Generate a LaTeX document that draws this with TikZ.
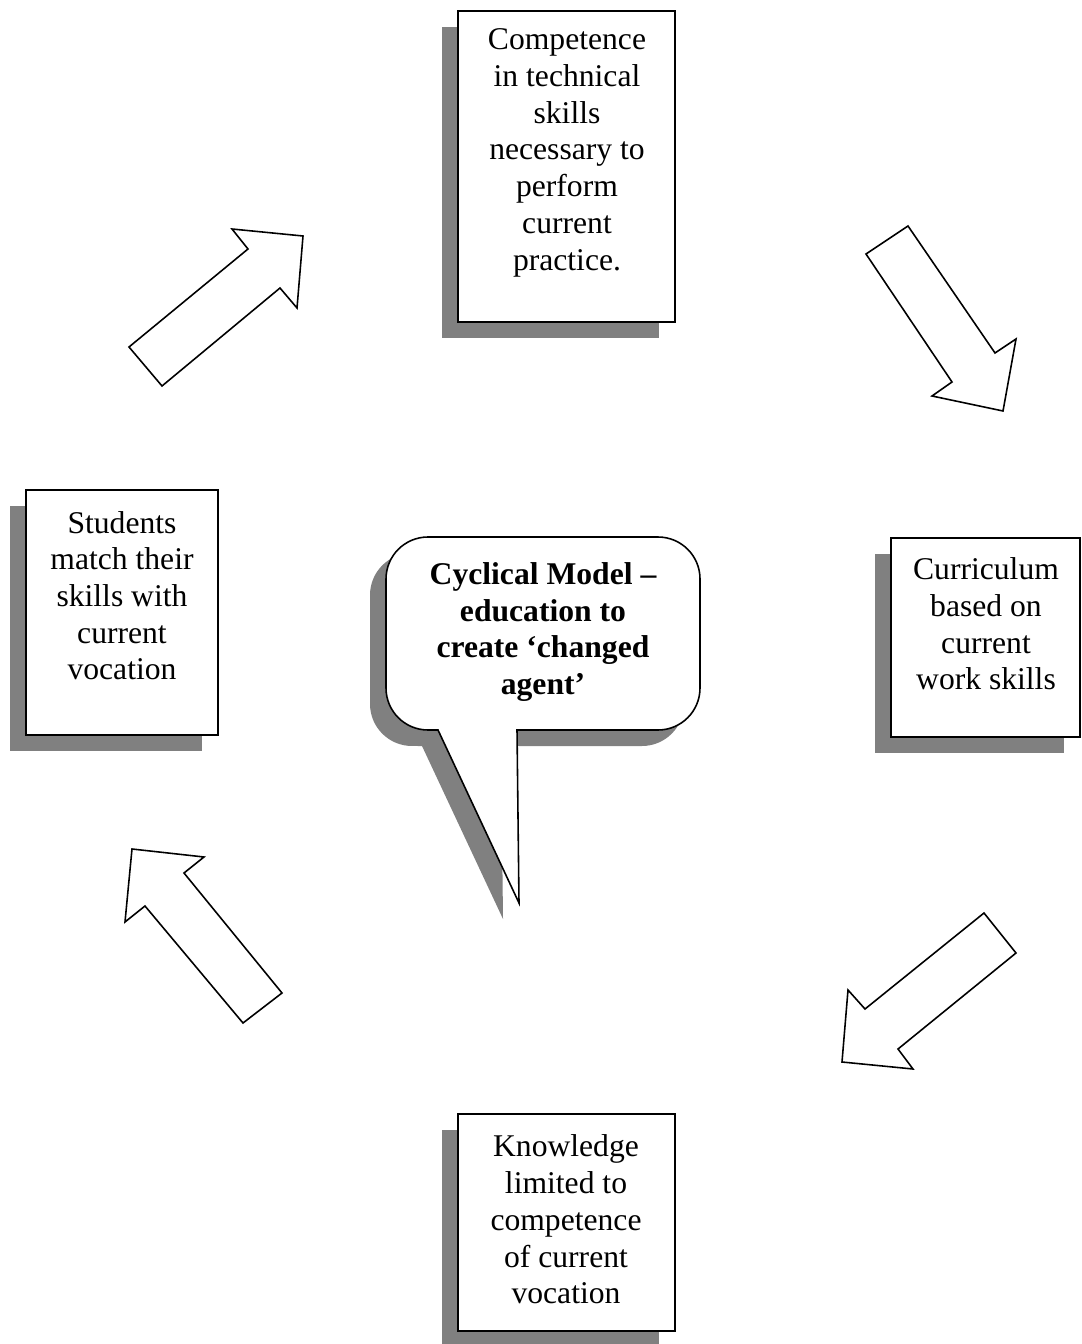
\documentclass[tikz,border=0pt]{standalone}
\usepackage{fontspec}
\setmainfont{Liberation Serif}
\usetikzlibrary{shadows}

% outline of the speech bubble (pixel units of the picture)
\newcommand{\bubble}{(519,903) -- (517,730) -- (658,730)
  arc[start angle=-90, end angle=0, radius=0.84cm] -- (700,579)
  arc[start angle=0, end angle=90, radius=0.84cm] -- (428,537)
  arc[start angle=90, end angle=180, radius=0.84cm] -- (386,688)
  arc[start angle=180, end angle=270, radius=0.84cm] -- (438,730) -- cycle}

\begin{document}
\begin{tikzpicture}[
  x=0.02cm, y=-0.02cm,
  card/.style={rectangle, draw, line width=0.9pt, fill=white, inner sep=0pt,
    drop shadow={shadow xshift=-0.32cm, shadow yshift=-0.32cm, fill=black!50, opacity=1}},
  txt/.style={align=center, inner sep=0pt, font=\fontsize{18}{20.9}\selectfont},
  bigarrow/.style={draw, line width=0.9pt, fill=white, line join=miter}
]
\useasboundingbox (0,0) rectangle (1081,1344);

% boxes of the cycle
\node[card, minimum width=4.34cm, minimum height=6.22cm] (skillsbox) at (566.5,166.5) {};
\node[card, minimum width=3.78cm, minimum height=3.98cm] (curriculumbox) at (985.5,637.5) {};
\node[card, minimum width=4.34cm, minimum height=4.34cm] (knowledgebox) at (566.5,1222.5) {};
\node[card, minimum width=3.84cm, minimum height=4.9cm] (studentsbox) at (122,612.5) {};

\node[txt] (skills) at (567,152.8) {Competence\\in technical\\skills\\necessary to\\perform\\current\\practice.};
\node[txt] (curriculum) at (986,624) {Curriculum\\based on\\current\\work skills};
\node[txt] (knowledge) at (566,1219.5) {Knowledge\\limited to\\competence\\of current\\vocation};
\node[txt] (students) at (122,595.7) {Students\\match their\\skills with\\current\\vocation};

% block arrows
\draw[bigarrow] (129,347) -- (248,249) -- (232,229) -- (303,236) -- (297,308) -- (280,288) -- (162,386) -- cycle;
\draw[bigarrow] (866,254) -- (908,226) -- (995,353) -- (1016,339) -- (1003,411) -- (932,396) -- (952,382) -- cycle;
\draw[bigarrow] (984,913) -- (1016,953) -- (898,1049) -- (913,1069) -- (842,1062) -- (848,990) -- (865,1009) -- cycle;
\draw[bigarrow] (243,1023) -- (282,993) -- (184,873) -- (204,857) -- (132,849) -- (125,922) -- (145,906) -- cycle;

% speech bubble in the middle
\begin{scope}[xshift=-0.32cm, yshift=-0.32cm]
  \fill[black!50] \bubble;
\end{scope}
\draw[line width=0.9pt, fill=white] \bubble;
\node[txt, font=\fontsize{18}{20.9}\selectfont\bfseries] (model) at (543,632) {Cyclical Model --\\education to\\create ‘changed\\agent’};
\end{tikzpicture}
\end{document}
